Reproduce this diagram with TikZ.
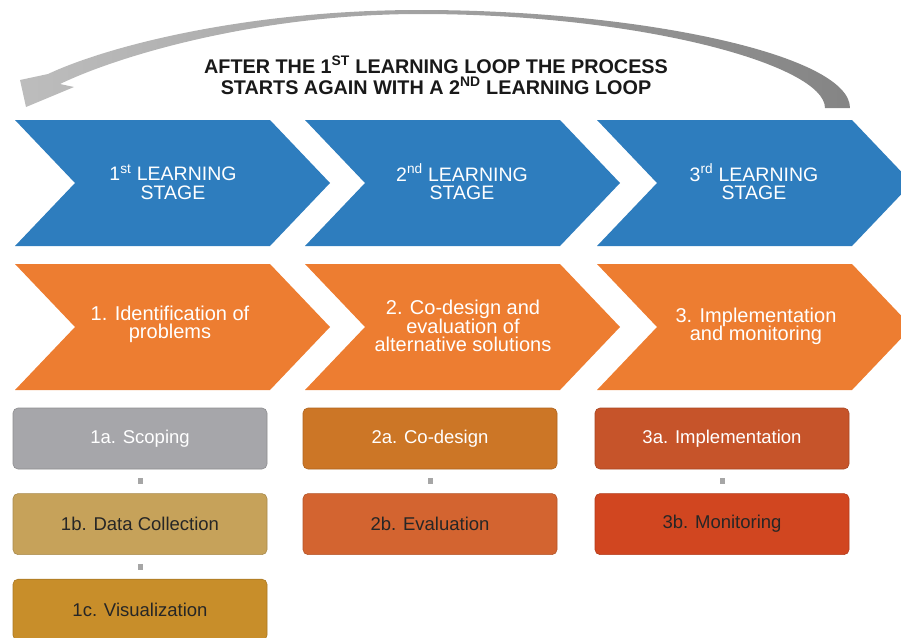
\documentclass[tikz,border=0pt]{standalone}
\usepackage{fontspec}
\setmainfont{Liberation Sans}
\usetikzlibrary{positioning}
\definecolor{stageblue}{RGB}{46,125,190}
\definecolor{phaseorange}{RGB}{237,125,49}
\definecolor{scopegray}{RGB}{166,166,170}
\definecolor{datatan}{RGB}{198,162,90}
\definecolor{visgold}{RGB}{200,142,42}
\definecolor{codesign}{RGB}{204,118,38}
\definecolor{evalorange}{RGB}{211,100,48}
\definecolor{implred}{RGB}{198,84,42}
\definecolor{monred}{RGB}{209,70,32}
\newcommand{\tightlines}{\lineskiplimit=-30pt\relax}
\tikzset{
        looptitle/.style={align=center, text=black!90, font=\bfseries\fontsize{19.8}{21}\selectfont},
        stagetext/.style={text=white, align=center, font=\fontsize{19.5}{18.5}\selectfont\tightlines},
        phasetext/.style={text=white, align=center, font=\fontsize{20}{18.3}\selectfont\tightlines},
        taskbox/.style={fill=#1, draw=#1!85!black, line width=0.6pt, rounded corners=5pt,
          minimum width=254pt, minimum height=61pt, inner sep=0pt, font=\fontsize{18.5}{20}\selectfont},
        light/.style={text=white},
        dark/.style={text=black!85},
        tasklink/.style={draw=black!35, line width=5pt, shorten >=9pt, shorten <=9pt}
          }

\begin{document}
\begin{tikzpicture}[x=1pt, y=-1pt]
            \useasboundingbox (0,0) rectangle (901,637);
            \clip (0,0) rectangle (901,637);
            % loop arrow
            \shade[left color=black!26, right color=black!48]
              (850,108) .. controls (850,55) and (640,10) .. (420,10)
              .. controls (250,10) and (110,45) .. (48,74)
              -- (20,80) -- (26,107) -- (74,87) -- (60,84)
              .. controls (120,55) and (260,14) .. (420,14)
              .. controls (640,14) and (825,65) .. (825,108) -- cycle;
            \node[looptitle] (loop) at (436,75) {AFTER THE 1\textsuperscript{ST} LEARNING LOOP THE PROCESS\\STARTS AGAIN WITH A 2\textsuperscript{ND} LEARNING LOOP};
            % chevrons
            \foreach \x in {15,305,597}{
              \fill[stageblue] (\x,120) -- ++(255,0) -- ++(60,63) -- ++(-60,63) -- ++(-255,0) -- ++(60,-63) -- cycle;
              \fill[phaseorange] (\x,264) -- ++(255,0) -- ++(60,63) -- ++(-60,63) -- ++(-255,0) -- ++(60,-63) -- cycle;
            }
            \node[stagetext] (stage1) at (173,182) {1\textsuperscript{st} LEARNING\\STAGE};
            \node[stagetext] (stage2) at (462,182) {2\textsuperscript{nd} LEARNING\\STAGE};
            \node[stagetext] (stage3) at (754,182) {3\textsuperscript{rd} LEARNING\\STAGE};
            \node[phasetext] (phase1) at (170,324) {1. Identification of\\problems};
            \node[phasetext] (phase2) at (463,326) {2. Co-design and\\evaluation of\\alternative solutions};
            \node[phasetext] (phase3) at (756,326) {3. Implementation\\and monitoring};
            % task boxes
            \node[taskbox=scopegray, light] (s1a) at (140,438.5) {1a. Scoping};
            \node[taskbox=datatan, dark, below=24pt of s1a] (s1b) {1b. Data Collection};
            \node[taskbox=visgold, dark, below=24pt of s1b] (s1c) {1c. Visualization};
            \node[taskbox=codesign, light] (s2a) at (430,438.5) {2a. Co-design};
            \node[taskbox=evalorange, dark, below=24pt of s2a] (s2b) {2b. Evaluation};
            \node[taskbox=implred, light] (s3a) at (722,438.5) {3a. Implementation};
            \node[taskbox=monred, dark, below=24pt of s3a] (s3b) {3b. Monitoring};
            \draw[tasklink] (s1a) -- (s1b);
            \draw[tasklink] (s1b) -- (s1c);
            \draw[tasklink] (s2a) -- (s2b);
            \draw[tasklink] (s3a) -- (s3b);
          \end{tikzpicture}
\end{document}
